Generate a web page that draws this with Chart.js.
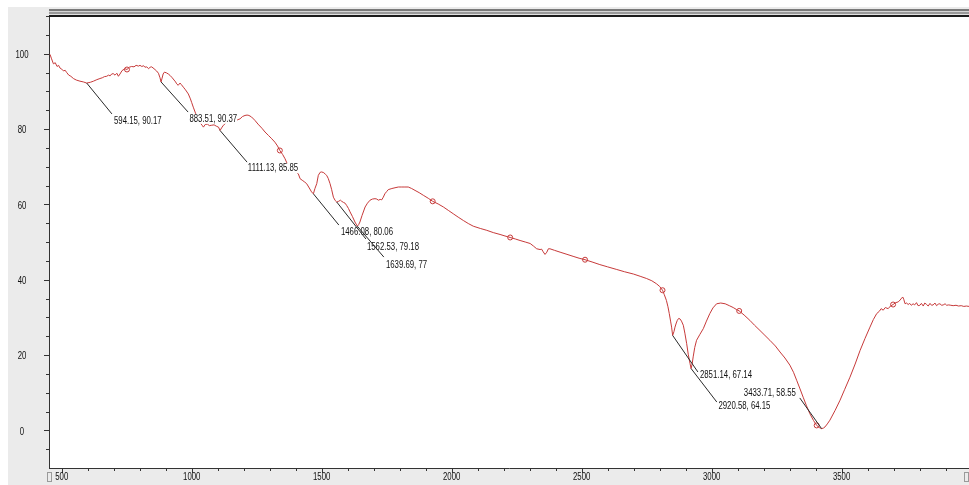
<!DOCTYPE html>
<html lang="en">
<head>
<meta charset="UTF-8">
<title>IR spectrum</title>
<script src="https://cdn.jsdelivr.net/npm/chart.js"></script>
<style>
  html, body { margin: 0; padding: 0; background: #fff; }
  #wrap { width: 969px; height: 485px; }
</style>
</head>
<body>
<div id="wrap"><canvas id="spectrum" width="969" height="485"></canvas></div>
<script>
// spectrum (wavenumber, value on the axis)
const waveNumbers = [
  455, 460, 468, 475, 482, 488, 493, 500, 507, 513, 519, 527, 535, 545, 556, 570, 583, 596, 610, 622,
  635, 647, 656, 664, 673, 680, 686, 692, 698, 705, 712, 718, 724, 732, 743, 751, 760, 769, 778, 786,
  795, 801, 808, 815, 820, 827, 834, 840, 846, 855, 865, 872, 878, 882, 886, 890, 895, 903, 910, 917,
  925, 932, 938, 942, 948, 955, 960, 968, 976, 987, 995, 1000, 1006, 1013, 1020, 1030, 1040, 1045, 1052, 1060,
  1068, 1077, 1086, 1096, 1103, 1109, 1115, 1122, 1135, 1150, 1165, 1175, 1186, 1195, 1205, 1213, 1220, 1230, 1243, 1255,
  1270, 1282, 1295, 1308, 1320, 1330, 1339, 1350, 1359, 1366, 1372, 1385, 1398, 1410, 1417, 1425, 1433, 1442, 1450, 1461,
  1468, 1474, 1481, 1487, 1494, 1500, 1508, 1514, 1519, 1525, 1532, 1538, 1545, 1552, 1558, 1565, 1572, 1577, 1584, 1590,
  1596, 1603, 1609, 1618, 1628, 1637, 1642, 1647, 1655, 1667, 1676, 1686, 1695, 1705, 1712, 1718, 1725, 1731, 1737, 1743,
  1750, 1756, 1770, 1782, 1795, 1808, 1820, 1833, 1846, 1859, 1875, 1891, 1910, 1927, 1948, 1968, 1987, 2006, 2025, 2045,
  2064, 2083, 2110, 2135, 2160, 2186, 2205, 2225, 2245, 2263, 2283, 2302, 2315, 2327, 2340, 2346, 2352, 2359, 2366, 2372,
  2378, 2395, 2417, 2440, 2467, 2490, 2513, 2540, 2570, 2600, 2635, 2665, 2699, 2725, 2750, 2770, 2788, 2800, 2811, 2818,
  2826, 2832, 2837, 2842, 2846, 2850, 2855, 2859, 2864, 2868, 2873, 2878, 2884, 2891, 2897, 2904, 2910, 2917, 2921, 2925,
  2929, 2935, 2942, 2955, 2968, 2980, 2993, 3005, 3019, 3035, 3052, 3068, 3083, 3095, 3106, 3125, 3147, 3165, 3186, 3205,
  3224, 3245, 3263, 3282, 3301, 3315, 3327, 3340, 3352, 3365, 3378, 3392, 3404, 3415, 3423, 3430, 3436, 3445, 3455, 3475,
  3494, 3512, 3532, 3552, 3571, 3590, 3609, 3622, 3635, 3645, 3652, 3660, 3668, 3679, 3688, 3698, 3708, 3718, 3725, 3731,
  3735, 3739, 3744, 3750, 3756, 3762, 3768, 3775, 3781, 3788, 3794, 3801, 3807, 3814, 3820, 3827, 3833, 3840, 3846, 3852,
  3859, 3865, 3872, 3878, 3885, 3891, 3898, 3904, 3912, 3920, 3929, 3940, 3950, 3960, 3970, 3980, 3990
];
const transmittance = [
  99.8, 98.8, 97.3, 97.6, 96.6, 96.9, 96.2, 95.9, 95.4, 95.6, 95.0, 94.3, 94.0, 93.4, 93.0, 92.7, 92.5, 92.2, 92.4, 92.7,
  93.1, 93.4, 93.6, 93.9, 94.0, 94.3, 94.1, 94.6, 94.7, 94.3, 94.8, 94.0, 94.6, 95.5, 96.0, 95.8, 96.4, 96.6, 96.5, 96.9,
  96.7, 96.9, 96.6, 96.8, 96.4, 96.5, 96.0, 96.4, 96.5, 96.0, 95.4, 94.8, 93.6, 92.5, 93.5, 94.6, 95.1, 94.9, 94.6, 94.2,
  93.6, 93.0, 92.5, 92.0, 91.6, 92.2, 91.8, 91.1, 90.4, 89.3, 88.0, 87.0, 85.8, 84.5, 83.2, 81.8, 81.0, 80.5, 81.2, 81.3,
  80.9, 81.0, 81.1, 80.7, 80.5, 79.6, 80.3, 81.0, 81.8, 82.1, 82.3, 82.4, 82.7, 83.3, 83.6, 83.7, 83.6, 83.2, 82.3, 81.3,
  80.2, 79.2, 78.3, 77.4, 76.5, 75.5, 74.3, 73.2, 72.1, 71.0, 70.3, 69.5, 68.8, 68.1, 66.8, 66.4, 66.0, 65.5, 64.6, 63.3,
  62.8, 64.2, 65.5, 67.7, 68.5, 68.6, 68.4, 68.0, 67.7, 66.9, 65.5, 64.0, 61.9, 61.0, 60.6, 60.8, 61.1, 60.8, 60.5, 60.3,
  59.7, 58.9, 58.0, 56.8, 55.3, 54.2, 54.6, 55.3, 57.0, 59.3, 60.3, 61.1, 61.4, 61.5, 61.4, 61.1, 61.3, 61.2, 61.9, 62.8,
  63.4, 63.9, 64.2, 64.4, 64.6, 64.6, 64.6, 64.6, 64.2, 63.7, 63.1, 62.4, 61.6, 60.8, 60.1, 59.3, 58.4, 57.5, 56.6, 55.7,
  54.9, 54.2, 53.6, 53.1, 52.5, 52.0, 51.6, 51.2, 50.8, 50.4, 50.0, 49.6, 48.9, 48.2, 48.0, 48.1, 47.4, 46.7, 47.3, 48.2,
  48.2, 47.8, 47.3, 46.8, 46.2, 45.7, 45.3, 44.7, 44.0, 43.4, 42.7, 42.1, 41.5, 40.9, 40.3, 39.7, 38.9, 38.2, 37.2, 36.0,
  34.5, 32.8, 31.0, 29.0, 27.4, 25.2, 26.2, 27.4, 28.5, 29.2, 29.7, 29.6, 29.0, 27.9, 25.8, 23.0, 20.2, 17.7, 16.4, 17.6,
  19.5, 22.0, 23.9, 25.5, 27.0, 29.0, 31.0, 32.5, 33.6, 33.8, 33.6, 33.1, 32.6, 32.1, 31.7, 30.6, 29.2, 27.9, 26.5, 25.2,
  23.9, 22.4, 20.8, 19.2, 17.3, 15.4, 13.3, 11.0, 8.8, 6.5, 4.4, 2.6, 1.3, 0.7, 0.45, 0.6, 0.9, 1.7, 2.7, 5.3,
  8.0, 10.9, 14.1, 17.6, 21.2, 24.4, 27.4, 29.4, 31.0, 31.6, 32.3, 31.9, 32.6, 32.3, 33.0, 33.4, 33.9, 34.1, 34.6, 35.1,
  35.4, 34.8, 33.6, 33.8, 33.4, 33.7, 33.2, 33.6, 33.3, 33.9, 33.1, 33.2, 33.7, 33.0, 33.8, 33.4, 33.0, 33.7, 33.2, 33.3,
  33.8, 33.1, 33.5, 33.6, 33.2, 33.3, 33.6, 33.2, 33.3, 33.2, 33.1, 33.2, 33.0, 33.1, 32.9, 33.0, 32.9
];

// small hollow circles sitting on the trace
const markerX = [751, 1339, 1927, 2225, 2513, 2811, 3106, 3404, 3698];
const markerY = [95.8, 74.3, 60.8, 51.2, 45.3, 37.2, 31.7, 1.3, 33.4];

// peak picks: where the leader starts, where it ends, where the label sits
const peakNames = ['594.15, 90.17', '883.51, 90.37', '1111.13, 85.85', '1466.08, 80.06', '1562.53, 79.18',
                   '1639.69, 77', '2851.14, 67.14', '2920.58, 64.15', '3433.71, 58.55'];
const peakX = [596, 882, 1109, 1468, 1558, 1637, 2850, 2921, 3423];
const peakY = [92.2, 92.5, 79.6, 62.8, 60.6, 54.2, 25.2, 16.4, 0.45];
const leaderX = [693, 986, 1213, 1566, 1670, 1739, 2947, 3020, 3339];
const leaderY = [84.0, 84.5, 71.2, 54.5, 50.8, 46.0, 15.5, 7.5, 8.6];
const labelX = [701, 991, 1216, 1574, 1674, 1747, 2955, 3026, 3324];
const labelY = [82.1, 82.7, 69.6, 52.7, 48.7, 43.9, 14.7, 6.5, 9.9];
const labelSide = ['left', 'left', 'left', 'left', 'left', 'left', 'left', 'left', 'right'];

const yTickLabels = [0, 20, 40, 60, 80, 100];
const xTickLabels = [500, 1000, 1500, 2000, 2500, 3000, 3500];

const traceRed = '#c73a3a';
const labelFont = "'Liberation Sans', Arial, sans-serif";
const squeeze = 0.78; // labels in the original use a narrow face

const panel = {
  id: 'panel',
  beforeDraw(chart) {
    const { ctx, width, height, chartArea: a } = chart;
    ctx.save();
    ctx.fillStyle = '#fff';
    ctx.fillRect(0, 0, width, height);
    ctx.fillStyle = '#ebebeb';
    ctx.fillRect(8, 7, width - 8, height - 7);
    ctx.fillStyle = '#fff';
    ctx.fillRect(a.left, a.top, a.right - a.left, a.bottom - a.top);
    ctx.restore();
  },
  afterDraw(chart) {
    const { ctx, chartArea: a } = chart;
    const w = a.right - a.left;
    ctx.save();
    // the double rule on top of the plot
    [['#7a7a7a', 9, 2], ['#d6d6d6', 11, 1], ['#9a9a9a', 12, 2], ['#e2e2e2', 14, 1], ['#1c1c1c', 15, 2]]
      .forEach(([c, y, h]) => { ctx.fillStyle = c; ctx.fillRect(a.left, y, w, h); });
    // little scroll boxes at the ends of the x axis
    ctx.strokeStyle = '#9a9a9a';
    ctx.strokeRect(47.5, 472.5, 4, 9);
    ctx.strokeRect(964.5, 472.5, 4, 9);
    ctx.restore();
  }
};

function squeezedText(ctx, text, x, y, align) {
  const w = ctx.measureText(text).width * squeeze;
  const left = align === 'right' ? x - w : align === 'center' ? x - w / 2 : x;
  ctx.save();
  ctx.translate(left, y);
  ctx.scale(squeeze, 1);
  ctx.fillText(text, 0, 0);
  ctx.restore();
  return { left, w };
}

const axisTicks = {
  id: 'axisTicks',
  afterDraw(chart) {
    const { ctx, chartArea: a, scales: { x, y } } = chart;
    ctx.save();
    ctx.strokeStyle = '#333';
    ctx.lineWidth = 1;
    ctx.beginPath();
    x.ticks.forEach(t => {
      const px = Math.round(x.getPixelForValue(t.value)) + 0.5;
      const len = xTickLabels.includes(t.value) ? 5 : 3;
      ctx.moveTo(px, a.bottom);
      ctx.lineTo(px, a.bottom + len);
    });
    y.ticks.forEach(t => {
      if (t.value <= -10) return;
      const py = Math.round(y.getPixelForValue(t.value)) + 0.5;
      const len = yTickLabels.includes(t.value) ? 5 : 3;
      ctx.moveTo(a.left - len, py);
      ctx.lineTo(a.left, py);
    });
    ctx.stroke();

    // tick labels, placed with the scales
    ctx.fillStyle = '#111';
    ctx.font = '10px ' + labelFont;
    ctx.textBaseline = 'middle';
    ctx.textAlign = 'left';
    xTickLabels.forEach(v => squeezedText(ctx, String(v), x.getPixelForValue(v), a.bottom + 9, 'center'));
    yTickLabels.forEach(v => squeezedText(ctx, String(v), 22, y.getPixelForValue(v) + 1.5, 'center'));
    ctx.restore();
  }
};

const peakLabels = {
  id: 'peakLabels',
  afterDatasetsDraw(chart) {
    const { ctx, scales: { x, y } } = chart;
    ctx.save();
    ctx.font = '10px ' + labelFont;
    ctx.textBaseline = 'middle';
    ctx.textAlign = 'left';
    peakNames.forEach((name, i) => {
      ctx.strokeStyle = '#2a2a2a';
      ctx.lineWidth = 1;
      ctx.beginPath();
      ctx.moveTo(x.getPixelForValue(peakX[i]), y.getPixelForValue(peakY[i]));
      ctx.lineTo(x.getPixelForValue(leaderX[i]), y.getPixelForValue(leaderY[i]));
      ctx.stroke();

      const w = ctx.measureText(name).width * squeeze;
      const tx = x.getPixelForValue(labelX[i]);
      const ty = y.getPixelForValue(labelY[i]);
      const left = labelSide[i] === 'right' ? tx - w : tx;
      ctx.fillStyle = '#fff';
      ctx.fillRect(left - 1, ty - 5, w + 1, 10);
      ctx.fillStyle = '#111';
      squeezedText(ctx, name, left, ty + 0.5, 'left');
    });
    ctx.restore();
  }
};

const noPad = s => { s.paddingTop = 0; s.paddingBottom = 0; s.paddingLeft = 0; s.paddingRight = 0; };

new Chart(document.getElementById('spectrum'), {
  type: 'line',
  data: {
    datasets: [
      {
        data: waveNumbers.map((w, i) => ({ x: w, y: transmittance[i] })),
        borderColor: traceRed,
        borderWidth: 1,
        pointRadius: 0,
        tension: 0,
        fill: false
      },
      {
        data: markerX.map((w, i) => ({ x: w, y: markerY[i] })),
        showLine: false,
        pointRadius: 2.5,
        pointBorderWidth: 1,
        pointBorderColor: traceRed,
        pointBackgroundColor: 'rgba(255,255,255,0)',
        borderColor: traceRed
      }
    ]
  },
  options: {
    responsive: false,
    animation: false,
    devicePixelRatio: 1,
    events: [],
    layout: { autoPadding: false, padding: { top: 16, left: 0, right: 0, bottom: 0 } },
    plugins: { legend: { display: false }, tooltip: { enabled: false } },
    scales: {
      x: {
        type: 'linear',
        min: 451,
        max: 3990,
        grid: { display: false },
        border: { display: true, color: '#333', width: 1 },
        ticks: { stepSize: 100, includeBounds: false, autoSkip: false, maxRotation: 0, display: false },
        afterFit: s => { s.height = 17; noPad(s); }
      },
      y: {
        min: -10,
        max: 110,
        grid: { display: false },
        border: { display: true, color: '#333', width: 1 },
        ticks: { stepSize: 5, includeBounds: false, autoSkip: false, display: false },
        afterFit: s => { s.width = 49; noPad(s); }
      }
    }
  },
  plugins: [panel, axisTicks, peakLabels]
});
</script>
</body>
</html>
